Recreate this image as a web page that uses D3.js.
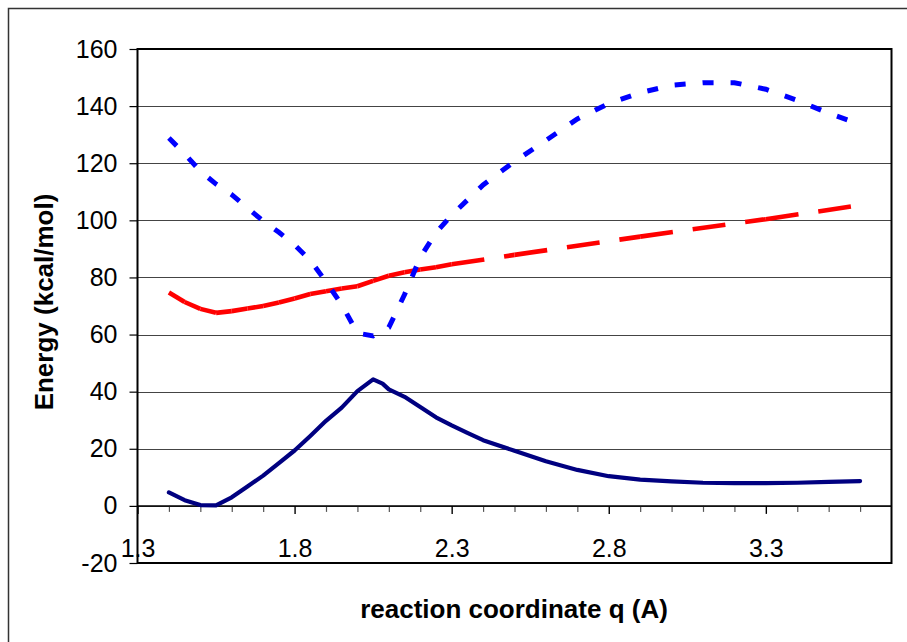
<!DOCTYPE html>
<html>
<head>
<meta charset="utf-8">
<script src="https://cdn.jsdelivr.net/npm/d3@7"></script>
<style>
  body { margin: 0; background: #fff; }
  svg { display: block; }
  text { font-family: "Liberation Sans", Arial, sans-serif; fill: #000; }
</style>
</head>
<body>
<svg id="chart" width="907" height="642"></svg>
<script>
// solid navy curve
var navyQ = [1.40, 1.45, 1.50, 1.55, 1.60, 1.65, 1.70, 1.75, 1.80, 1.85, 1.90, 1.95, 2.00, 2.05, 2.08, 2.10, 2.15, 2.20, 2.25, 2.30, 2.35, 2.40, 2.50, 2.60, 2.70, 2.80, 2.90, 3.00, 3.10, 3.20, 3.30, 3.40, 3.50, 3.60];
var navyE = [4.7, 2.0, 0.3, 0.2, 3.0, 6.8, 10.6, 15.0, 19.4, 24.5, 29.8, 34.4, 40.2, 44.3, 42.8, 40.8, 38.2, 34.6, 31.0, 28.2, 25.6, 23.0, 19.3, 15.6, 12.6, 10.4, 9.2, 8.6, 8.1, 8.0, 8.0, 8.1, 8.4, 8.7];

// red long dash curve
var redQ = [1.40, 1.45, 1.50, 1.55, 1.60, 1.65, 1.70, 1.75, 1.80, 1.85, 1.90, 1.95, 2.00, 2.05, 2.10, 2.15, 2.20, 2.25, 2.30, 2.50, 2.90, 3.30, 3.60];
var redE = [74.7, 71.4, 69.0, 67.6, 68.2, 69.1, 70.0, 71.2, 72.6, 74.2, 75.2, 76.1, 76.9, 78.8, 80.6, 81.8, 82.8, 83.6, 84.6, 87.9, 94.3, 100.4, 105.3];

// blue dotted curve
var blueQ = [1.40, 1.45, 1.50, 1.55, 1.60, 1.65, 1.70, 1.75, 1.80, 1.85, 1.90, 1.95, 2.00, 2.05, 2.10, 2.15, 2.20, 2.25, 2.30, 2.40, 2.50, 2.60, 2.70, 2.80, 2.90, 3.00, 3.10, 3.20, 3.30, 3.40, 3.50, 3.60];
var blueE = [128.8, 123.3, 117.2, 112.7, 109.0, 104.3, 99.8, 95.8, 91.4, 86.0, 78.5, 70.5, 60.5, 59.5, 62.5, 74.0, 87.0, 95.7, 101.8, 112.4, 120.6, 128.0, 135.5, 140.9, 144.7, 147.3, 148.2, 148.2, 145.9, 142.0, 137.5, 133.6];

var yTicks = [-20, 0, 20, 40, 60, 80, 100, 120, 140, 160];
var xMajor = [1.3, 1.8, 2.3, 2.8, 3.3];
var xMinor = [1.4, 1.5, 1.6, 1.7, 1.9, 2.0, 2.1, 2.2, 2.4, 2.5, 2.6, 2.7, 2.9, 3.0, 3.1, 3.2, 3.4, 3.5, 3.6];

var svg = d3.select("#chart");
var plotL = 137.5, plotR = 891.5, plotT = 49, plotB = 563;

var x = d3.scaleLinear().domain([1.3, 3.7]).range([plotL, plotR]);
var y = d3.scaleLinear().domain([-20, 160]).range([plotB, plotT]);

// outer frame (runs off the picture right and bottom)
svg.append("rect")
  .attr("x", 8.5).attr("y", 8.5)
  .attr("width", 1000).attr("height", 1000)
  .attr("fill", "none").attr("stroke", "#333").attr("stroke-width", 1.5);

// gridlines
svg.append("g").selectAll("line")
  .data(yTicks)
  .join("line")
  .attr("x1", plotL).attr("x2", plotR)
  .attr("y1", d => Math.round(y(d)) + 0.5).attr("y2", d => Math.round(y(d)) + 0.5)
  .attr("stroke", "#444").attr("stroke-width", 1);

// y axis
var gy = svg.append("g")
  .attr("transform", "translate(" + plotL + ",0)")
  .call(d3.axisLeft(y).tickValues(yTicks).tickSize(8).tickPadding(12).tickFormat(d => String(d)));
gy.select(".domain").remove();
gy.selectAll(".tick line").attr("stroke", "#000").attr("stroke-width", 1.2);
gy.selectAll(".tick text").attr("font-size", 25).attr("font-family", "Liberation Sans, Arial, sans-serif");

// x axis crossing at zero: minor then major ticks
var y0 = y(0);
var gxMinor = svg.append("g")
  .attr("transform", "translate(0," + y0 + ")")
  .call(d3.axisBottom(x).tickValues(xMinor).tickSize(6).tickFormat(""));
gxMinor.select(".domain").remove();
gxMinor.selectAll(".tick line").attr("stroke", "#555").attr("stroke-width", 1.2);

var gx = svg.append("g")
  .attr("transform", "translate(0," + y0 + ")")
  .call(d3.axisBottom(x).tickValues(xMajor).tickSize(8).tickFormat(d3.format(".1f")));
gx.select(".domain").remove();
gx.selectAll(".tick line").attr("stroke", "#000").attr("stroke-width", 1.4);
gx.selectAll(".tick text")
  .attr("font-size", 25).attr("font-family", "Liberation Sans, Arial, sans-serif")
  .attr("y", 548 - y0).attr("dy", "0.35em");

svg.append("line")
  .attr("x1", plotL).attr("x2", plotR).attr("y1", y0).attr("y2", y0)
  .attr("stroke", "#000").attr("stroke-width", 1.5);

// plot area border and y axis line
svg.append("rect")
  .attr("x", plotL).attr("y", plotT)
  .attr("width", plotR - plotL).attr("height", plotB - plotT)
  .attr("fill", "none").attr("stroke", "#000").attr("stroke-width", 2);

var line = d3.line().x(d => x(d[0])).y(d => y(d[1]));

function zipped(q, e) { return q.map((v, i) => [v, e[i]]); }

// red: dash pattern restarts on every segment, like the spreadsheet does
svg.append("g").selectAll("path")
  .data(d3.pairs(zipped(redQ, redE)))
  .join("path")
  .attr("d", line)
  .attr("fill", "none")
  .attr("stroke", "#ff0000")
  .attr("stroke-width", 4.6)
  .attr("stroke-dasharray", "33,20");

svg.append("path")
  .datum(zipped(blueQ, blueE))
  .attr("d", line)
  .attr("fill", "none")
  .attr("stroke", "#0000ff")
  .attr("stroke-width", 5)
  .attr("stroke-dasharray", "11,17");

svg.append("path")
  .datum(zipped(navyQ, navyE))
  .attr("d", line)
  .attr("fill", "none")
  .attr("stroke", "#000080")
  .attr("stroke-width", 4.2)
  .attr("stroke-linejoin", "round")
  .attr("stroke-linecap", "round");

// axis titles
svg.append("text")
  .attr("transform", "translate(53,302) rotate(-90)")
  .attr("text-anchor", "middle")
  .attr("font-size", 26).attr("font-weight", "bold")
  .text("Energy (kcal/mol)");

svg.append("text")
  .attr("x", 514).attr("y", 618)
  .attr("text-anchor", "middle")
  .attr("font-size", 26).attr("font-weight", "bold")
  .text("reaction coordinate q (A)");
</script>
</body>
</html>
